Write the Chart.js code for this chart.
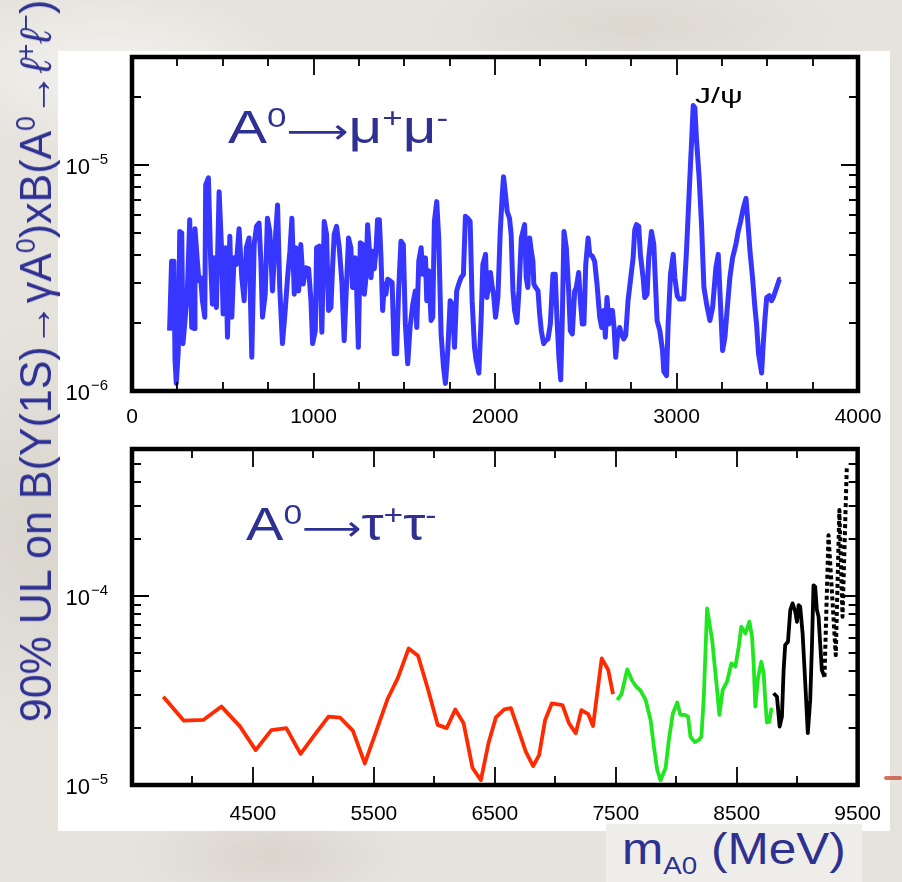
<!DOCTYPE html>
<html lang="en"><head><meta charset="UTF-8">
<title>A0 upper limits</title>
<script src="https://cdnjs.cloudflare.com/ajax/libs/Chart.js/4.4.1/chart.umd.min.js"></script>
<style>
*{box-sizing:border-box;margin:0;padding:0;}
html,body{width:902px;height:882px;overflow:hidden;}
body{position:relative;font-family:'Liberation Sans',Arial,sans-serif;
  background:
    radial-gradient(ellipse 260px 120px at 12% 8%,rgba(255,255,255,.55),transparent 70%),
    radial-gradient(ellipse 200px 300px at 4% 60%,rgba(200,196,186,.45),transparent 70%),
    radial-gradient(ellipse 300px 90px at 70% 3%,rgba(210,206,196,.5),transparent 70%),
    radial-gradient(ellipse 200px 80px at 30% 97%,rgba(205,200,190,.5),transparent 70%),
    #e6e3dd;}
.sheet{position:absolute;left:58px;top:51px;width:832px;height:780px;background:#fff;}
canvas{position:absolute;left:40px;}
#c1{top:40px;}
#c2{top:430px;}
.fit{transform-origin:left top;}
.proc{position:absolute;color:#2e3192;font-size:46px;white-space:nowrap;line-height:1;}
.proc sup{font-size:60%;vertical-align:0.58em;line-height:0;}
.proc .arr{font-family:'DejaVu Sans',sans-serif;font-size:34px;}
.jpsi{position:absolute;left:695px;top:85px;font-size:22px;line-height:1;color:#000;white-space:nowrap;}
#ytitle{position:absolute;left:36px;top:361px;color:#2e3192;font-size:44px;white-space:nowrap;line-height:1;}
#ytitle sup{font-size:62%;vertical-align:0.6em;line-height:0;}
.xbox{position:absolute;left:606px;top:824px;width:256px;height:58px;background:#efede9;}
.xtitle{position:absolute;left:622px;top:827px;color:#2e3192;font-size:44px;white-space:nowrap;line-height:1;}
.xtitle sub{font-size:56%;vertical-align:-0.42em;line-height:0;}
.streak{position:absolute;left:884px;top:776px;width:18px;height:4px;background:#c9503a;border-radius:2px;opacity:.8;}
</style></head>
<body>
<div class="sheet"></div>
<canvas id="c1" width="858" height="400"></canvas>
<canvas id="c2" width="858" height="410"></canvas>
<div class="proc fit" data-w="220" style="left:228px;top:104px">A<sup>0</sup><span class="arr">⟶</span>μ<sup>+</sup>μ<sup>-</sup></div>
<div class="proc fit" data-w="190" style="left:246px;top:501px">A<sup>0</sup><span class="arr">⟶</span>τ<sup>+</sup>τ<sup>-</sup></div>
<div class="jpsi fit" data-w="48">J/ψ</div>
<div id="ytitle">90% UL on B(Υ(1S)→γA<sup>0</sup>)xB(A<sup>0</sup>→<i>ℓ</i><sup>+</sup><i>ℓ</i><sup>−</sup>)</div>
<div class="xbox"></div>
<div class="xtitle fit" data-w="224">m<sub>A0</sub> (MeV)</div>
<div class="streak"></div>

<script>
// ── A0 -> mu+ mu- : mass (MeV) and 90% UL in units of 1e-6 ──
const muMass = [
  207,218,231,237,244,255,263,274,281,292,305,318,329,342,347,360,369,378,388,401,
  406,421,434,443,452,465,480,494,502,516,526,539,550,562,575,590,605,618,630,645,
  660,673,686,700,710,719,734,746,759,774,789,802,814,829,844,857,870,881,894,903,
  918,930,943,958,973,986,995,1010,1017,1032,1046,1059,1072,1083,1096,1105,1114,1127,1142,1157,
  1169,1182,1193,1206,1215,1230,1238,1247,1258,1271,1280,1289,1298,1307,1317,1326,1335,1344,1353,1363,
  1372,1381,1390,1399,1409,1422,1433,1445,1458,1469,1482,1495,1506,1519,1532,1547,1561,1569,1580,1593,
  1602,1617,1624,1635,1648,1657,1666,1679,1690,1703,1716,1727,1740,1753,1764,1777,1789,1800,1813,1826,
  1837,1850,1863,1874,1887,1896,1911,1924,1933,1948,1955,1966,1975,1985,1992,2003,2016,2029,2040,2047,
  2058,2067,2080,2089,2099,2108,2121,2132,2145,2154,2163,2172,2181,2191,2200,2209,2214,2224,2237,2246,
  2255,2268,2279,2292,2305,2319,2332,2341,2352,2362,2371,2380,2393,2406,2415,2426,2439,2448,2461,2470,
  2481,2490,2500,2513,2522,2536,2549,2562,2577,2588,2599,2608,2617,2628,2638,2647,2656,2665,2674,2687,
  2696,2709,2720,2733,2746,2761,2770,2779,2792,2801,2816,2825,2838,2847,2862,2875,2886,2893,2908,2923,
  2930,2945,2954,2967,2982,2991,3004,3015,3028,3040,3055,3070,3083,3092,3101,3110,3125,3138,3151,3166,
  3184,3199,3217,3230,3239,3254,3267,3280,3294,3309,3327,3340,3353,3368,3383,3390,3405,3419,3432,3441,
  3452,3469,3478,3488,3497,3511,3524,3533,3552,3567,3574
];
const muLimit = [
  1.85,3.75,3.75,1.37,1.08,1.51,5.08,5.0,1.62,2.05,2.77,5.72,1.91,1.89,5.22,3.75,3.07,3.17,2.51,2.12,
  8.15,8.77,3.63,2.42,3.88,2.34,7.61,4.15,2.19,4.3,1.73,4.83,2.12,3.88,3.63,5.22,3.17,2.51,4.3,4.75,
  1.41,4.44,5.35,5.53,3.75,2.12,2.68,5.81,5.08,2.77,4.6,6.65,2.87,1.62,2.27,3.17,4.15,5.81,2.68,4.3,
  2.77,4.44,2.97,3.51,3.47,2.51,1.62,1.85,4.3,4.37,1.82,5.62,4.92,2.27,2.34,3.51,4.92,5.35,4.3,2.97,
  1.67,2.97,4.75,4.3,2.87,3.88,2.77,1.56,4.52,4.44,2.68,3.17,5.44,4.3,3.17,4.15,3.47,4.15,5.72,5.72,
  3.88,2.27,2.97,2.68,3.12,3.07,3.02,1.46,1.46,2.77,4.6,4.44,1.98,1.32,1.91,2.42,2.77,1.91,3.75,4.3,
  3.28,3.88,2.51,3.40,2.05,2.12,5.62,6.88,4.75,1.79,1.28,1.08,1.51,2.51,2.42,1.56,2.77,2.97,3.17,3.28,
  5.92,5.81,5.62,2.51,1.56,1.37,1.2,2.12,3.63,4.02,2.59,2.97,3.34,2.87,2.68,2.12,2.59,5.08,7.36,8.86,
  7.36,6.22,5.81,4.92,2.77,2.27,2.01,2.77,4.75,5.08,5.44,3.17,2.87,4.75,4.15,3.75,2.97,2.87,2.77,2.19,
  1.85,1.62,1.67,1.70,1.98,3.28,3.28,2.12,1.41,1.12,2.12,5.08,4.3,2.77,1.85,1.79,2.77,2.87,3.34,2.51,
  1.98,1.98,3.63,4.75,4.02,3.95,3.75,2.97,2.12,1.91,2.27,1.73,2.59,1.98,2.27,2.27,1.91,1.41,1.73,1.91,
  1.79,1.70,1.76,2.51,3.07,3.88,5.17,5.44,5.35,4.02,3.17,2.59,2.68,3.88,5.08,4.44,2.77,2.05,1.85,1.51,
  1.22,1.17,1.98,3.28,4.02,3.17,2.64,2.55,2.55,2.55,4.15,7.61,12.6,18.3,17.9,13.0,8.71,5.44,2.87,2.42,
  2.05,2.34,3.51,4.02,2.77,1.51,1.73,2.34,3.17,3.88,4.44,5.08,5.62,6.43,7.11,6.02,4.15,3.17,2.34,1.98,
  1.46,1.2,1.62,2.12,2.59,2.64,2.51,2.59,2.87,3.12,3.12
];

// ── A0 -> tau+ tau- : mass (MeV) and 90% UL in units of 1e-5 ──
const tauRedMass  = [3759,3929,4089,4240,4391,4523,4652,4776,4894,5010,5125,5222,5326,5425,5519,5615,5697,5788,5865,5945,
                     6028,6102,6173,6242,6316,6385,6448,6509,6578,6633,6696,6756,6817,6866,6916,6971,7059,7114,7169,7216,
                     7273,7312,7384,7438,7477];
const tauRedLimit = [2.93,2.19,2.21,2.60,2.05,1.53,1.95,2.00,1.46,1.84,2.30,2.27,1.94,1.30,1.92,2.87,3.67,5.28,4.83,3.25,
                     2.08,2.00,2.51,2.12,1.23,1.06,1.67,2.28,2.51,2.55,1.95,1.50,1.26,1.44,2.21,2.70,2.65,2.12,1.88,2.49,
                     2.37,2.05,4.68,4.06,3.03];
const tauGreenMass  = [7513,7548,7595,7636,7670,7705,7747,7788,7815,7843,7870,7912,7939,7972,8008,8035,8071,8098,8118,8153,
                       8186,8208,8228,8255,8297,8330,8357,8384,8420,8456,8489,8517,8538,8572,8605,8627,8640,8654,8676,8703,
                       8723,8736,8750,8769,8786,8797];
const tauGreenLimit = [2.82,3.03,4.09,3.56,3.31,3.16,2.82,2.21,1.60,1.20,1.06,1.23,1.73,2.39,2.73,2.35,2.35,2.30,1.80,1.69,
                       1.73,1.80,2.93,8.60,5.85,3.59,2.35,3.18,3.52,4.40,4.23,5.39,6.88,6.35,7.31,6.09,4.40,2.60,3.67,4.49,
                       3.90,2.82,2.14,2.16,2.51,2.49];
const tauBlackMass  = [8805,8833,8855,8874,8888,8901,8924,8943,8962,8984,8998,9012,9025,9045,9067,9088,9108,9122,9135,9149,
                       9163,9177,9190,9204,9226];
const tauBlackLimit = [3.06,2.93,2.04,2.30,4.06,5.51,5.73,8.43,9.15,8.26,7.31,8.96,8.78,6.35,3.45,1.88,2.82,5.39,11.4,11.2,
                       8.43,7.78,5.62,4.06,3.74];
const tauDotMass  = [9226,9259,9319,9349,9375,9410];
const tauDotLimit = [3.74,21.0,4.87,28.5,7.78,47.4];

// ── axes ──
const topXTicks   = [0,250,500,750,1000,1250,1500,1750,2000,2250,2500,2750,3000,3250,3500,3750,4000];
const topXLabels  = [0,1000,2000,3000,4000];
const topYTicks   = [1e-6,2e-6,3e-6,4e-6,5e-6,6e-6,7e-6,8e-6,9e-6,1e-5,2e-5,3e-5];
const botXTicks   = [3500,4000,4500,5000,5500,6000,6500,7000,7500,8000,8500,9000,9500];
const botXLabels  = [4500,5500,6500,7500,8500,9500];
const botXMajors  = [3500,4500,5500,6500,7500,8500,9500];
const botYTicks   = [1e-5,2e-5,3e-5,4e-5,5e-5,6e-5,7e-5,8e-5,9e-5,1e-4,2e-4,3e-4,4e-4,5e-4,6e-4];

const isDecade = v => Math.abs(Math.log10(v) - Math.round(Math.log10(v))) < 1e-6;
const pts = (xs, ys, unit) => xs.map((m, i) => ({x: m, y: ys[i] * unit}));
const FONT = "'Liberation Sans', Arial, sans-serif";

// frame, inward tick marks on all four sides, and 10^n labels with a real superscript
function frameTicks(xMajor) {
  return {
    id: 'frameTicks',
    afterDatasetsDraw(chart) {
      const {ctx, chartArea: a, scales: {x, y}} = chart;
      ctx.save();
      ctx.strokeStyle = '#000';
      ctx.lineWidth = 1.8;
      ctx.beginPath();
      x.ticks.forEach(t => {
        const px = Math.round(x.getPixelForValue(t.value));
        const len = xMajor(t.value) ? 18 : 9;
        ctx.moveTo(px, a.bottom); ctx.lineTo(px, a.bottom - len);
        ctx.moveTo(px, a.top);    ctx.lineTo(px, a.top + len);
      });
      y.ticks.forEach(t => {
        const py = Math.round(y.getPixelForValue(t.value));
        const len = isDecade(t.value) ? 17 : 9;
        ctx.moveTo(a.left, py);  ctx.lineTo(a.left + len, py);
        ctx.moveTo(a.right, py); ctx.lineTo(a.right - len, py);
      });
      ctx.stroke();
      ctx.lineWidth = 4.5;
      ctx.strokeRect(a.left, a.top, a.right - a.left, a.bottom - a.top);

      ctx.fillStyle = '#000';
      ctx.textAlign = 'right';
      ctx.textBaseline = 'alphabetic';
      y.ticks.filter(t => isDecade(t.value)).forEach(t => {
        const py = y.getPixelForValue(t.value);
        const exp = '−' + Math.abs(Math.round(Math.log10(t.value)));
        const xr = a.left - 24;
        ctx.font = `15px ${FONT}`;
        const ew = ctx.measureText(exp).width;
        ctx.fillText(exp, xr, py - 1);
        ctx.font = `22px ${FONT}`;
        ctx.fillText('10', xr - ew - 1, py + 9);
      });
      ctx.restore();
    }
  };
}

function panel(id, datasets, c) {
  return new Chart(document.getElementById(id), {
    type: 'line',
    data: {datasets},
    options: {
      responsive: false, animation: false, devicePixelRatio: 1,
      layout: {padding: {top: c.padTop, right: 40, left: 0, bottom: 0}},
      plugins: {legend: {display: false}, tooltip: {enabled: false}},
      elements: {point: {radius: 0}, line: {tension: 0, borderJoinStyle: 'round', borderCapStyle: 'butt'}},
      scales: {
        x: {
          type: 'linear', min: c.xTicks[0], max: c.xTicks[c.xTicks.length - 1],
          afterBuildTicks: ax => { ax.ticks = c.xTicks.map(v => ({value: v})); },
          afterFit: ax => { ax.height = c.xHeight; },
          grid: {display: false, drawTicks: false}, border: {display: false},
          ticks: {autoSkip: false, maxRotation: 0, padding: c.xPad, color: '#000',
                  font: {family: FONT, size: 21},
                  callback: v => c.xLabels.includes(v) ? String(v) : ''}
        },
        y: {
          type: 'logarithmic', min: c.yTicks[0], max: c.yTicks[c.yTicks.length - 1],
          afterBuildTicks: ax => { ax.ticks = c.yTicks.map(v => ({value: v})); },
          afterFit: ax => { ax.width = 92; },
          grid: {display: false, drawTicks: false}, border: {display: false},
          ticks: {display: false}
        }
      }
    },
    plugins: [frameTicks(c.xMajor)]
  });
}

panel('c1', [
  {data: pts(muMass, muLimit, 1e-6), borderColor: '#3636ff', borderWidth: 5}
], {padTop: 17, xHeight: 49, xPad: 14, xTicks: topXTicks, xLabels: topXLabels,
    yTicks: topYTicks, xMajor: v => v % 1000 === 0});

panel('c2', [
  {data: pts(tauRedMass, tauRedLimit, 1e-5),     borderColor: '#ff2a00', borderWidth: 3.8},
  {data: pts(tauGreenMass, tauGreenLimit, 1e-5), borderColor: '#1fe61f', borderWidth: 3.8},
  {data: pts(tauBlackMass, tauBlackLimit, 1e-5), borderColor: '#000',    borderWidth: 3.8},
  {data: pts(tauDotMass, tauDotLimit, 1e-5),     borderColor: '#000',    borderWidth: 4, borderDash: [4, 3]}
], {padTop: 19, xHeight: 55, xPad: 17, xTicks: botXTicks, xLabels: botXLabels,
    yTicks: botYTicks, xMajor: v => botXMajors.includes(v)});

// stretch the overlay texts to the widths they have in the reference
document.querySelectorAll('.fit').forEach(el => {
  el.style.transform = `scaleX(${el.dataset.w / el.offsetWidth})`;
});
const yt = document.getElementById('ytitle');
yt.style.transform = `translate(-50%,-50%) rotate(-90deg) scaleX(${722 / yt.offsetWidth})`;
</script>
</body></html>
